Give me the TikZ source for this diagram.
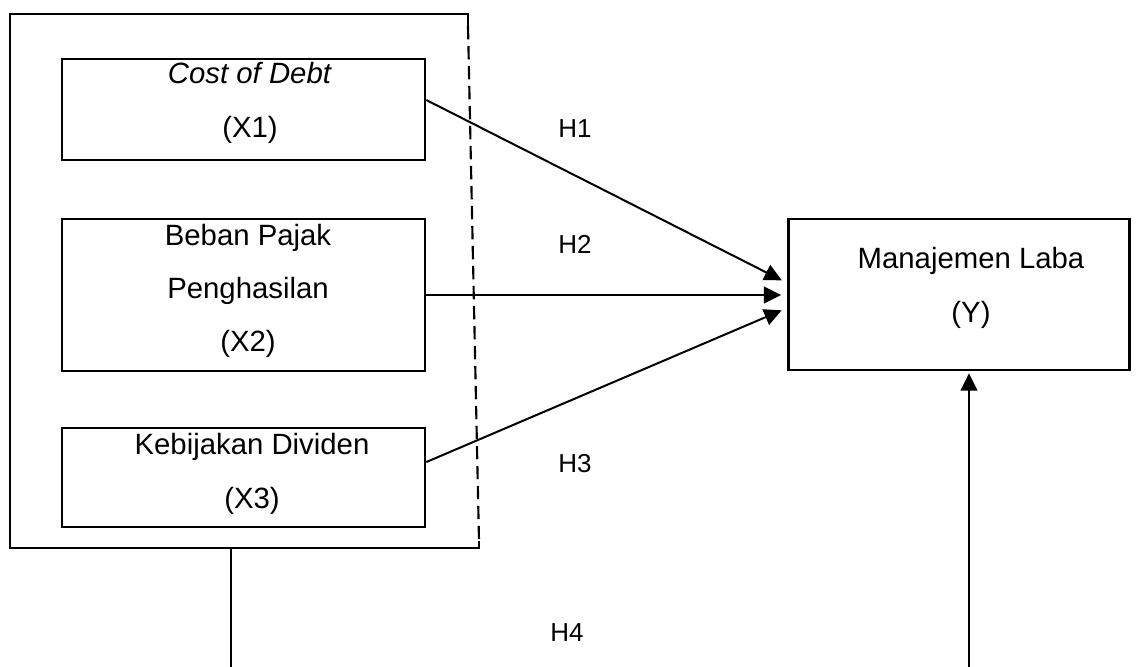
\documentclass[tikz,border=0pt]{standalone}
\usepackage{fontspec}
\setmainfont{Liberation Sans}
\usetikzlibrary{arrows.meta,calc}
\begin{document}
\begin{tikzpicture}[x=0.75pt,y=-0.75pt,
  box/.style={draw,line width=2pt,rectangle,inner sep=0pt,minimum width=272.25pt},
  boxtext/.style={align=center,inner sep=0pt,font=\fontsize{22}{40}\selectfont},
  hlabel/.style={inner sep=0pt,font=\fontsize{19.5}{22}\selectfont},
  frame/.style={line width=1.6pt},
  conn/.style={line width=1.5pt,-{Triangle[length=13pt,width=12.5pt]}},
  plain/.style={line width=1.5pt}]
\useasboundingbox (0,0) rectangle (1139,667);
% outer frame
\draw[frame,line join=miter] (468,26) -- (468,14) -- (10,14) -- (10,548) -- (479,548) -- (479,541);
\draw[frame,dash pattern=on 10pt off 5pt] (468,26) -- (479,541);
% boxes
\node[box,minimum height=75.75pt] (x1) at (243.5,109.5) {};
\node[box,minimum height=114pt] (x2) at (243.5,295) {};
\node[box,minimum height=74.25pt] (x3) at (243.5,477.5) {};
\node[box,minimum width=255.75pt,minimum height=113.25pt] (y) at (959,294.5) {};
% texts
\node[boxtext] (x1t) at (250,103) {\textit{Cost of Debt}\\(X1)};
\node[boxtext] (x2t) at (248,291) {Beban Pajak\\Penghasilan\\(X2)};
\node[boxtext] (x3t) at (252,474) {Kebijakan Dividen\\(X3)};
\node[boxtext] (yt) at (971,288) {Manajemen Laba\\(Y)};
% labels
\node[hlabel] (h1) at (575,129) {H1};
\node[hlabel] (h2) at (575,244) {H2};
\node[hlabel] (h3) at (575,464) {H3};
\node[hlabel] (h4) at (567,633) {H4};
% connectors
\draw[conn,shorten >=4.5pt] ([yshift=7.1pt]x1.east) -- ([yshift=8.6pt]y.west);
\draw[conn,shorten >=4.5pt] (x2.east) -- (x2.east -| y.west);
\draw[conn,shorten >=4.5pt] ([yshift=11.6pt]x3.east) -- ([yshift=-10.1pt]y.west);
\coordinate (fb) at (231,548);
\coordinate (fbend) at (231,667);
\draw[plain] (fb) -- (fbend);
\coordinate (ybot) at (969,667);
\draw[conn,shorten >=1.5pt] (ybot) -- (ybot |- y.south);
\end{tikzpicture}
\end{document}
